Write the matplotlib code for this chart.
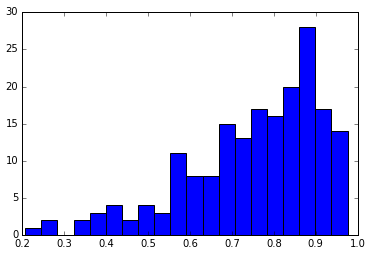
import matplotlib
matplotlib.use("Agg")
import matplotlib.pyplot as plt
import numpy as np

plt.style.use('classic')

counts = [1, 2, 0, 2, 3, 4, 2, 4, 3, 11, 8, 8, 15, 13, 17, 16, 20, 28, 17, 14]
bin_lo = 0.207
bin_hi = 0.976
edges = np.linspace(bin_lo, bin_hi, len(counts) + 1)

fig = plt.figure(figsize=(371/72, 256/72), dpi=72)
ax = fig.add_axes([0.060, 0.082, 0.904, 0.870])
ax.hist(edges[:-1], bins=edges, weights=counts, color='blue', edgecolor='black')
ax.set_xlim(0.2, 1.0)
ax.set_ylim(0, 30)
ax.set_xticks(np.arange(0.2, 1.01, 0.1))
ax.set_yticks(np.arange(0, 31, 5))
ax.tick_params(labelsize=10)
fig.savefig("out.png", dpi=72)
